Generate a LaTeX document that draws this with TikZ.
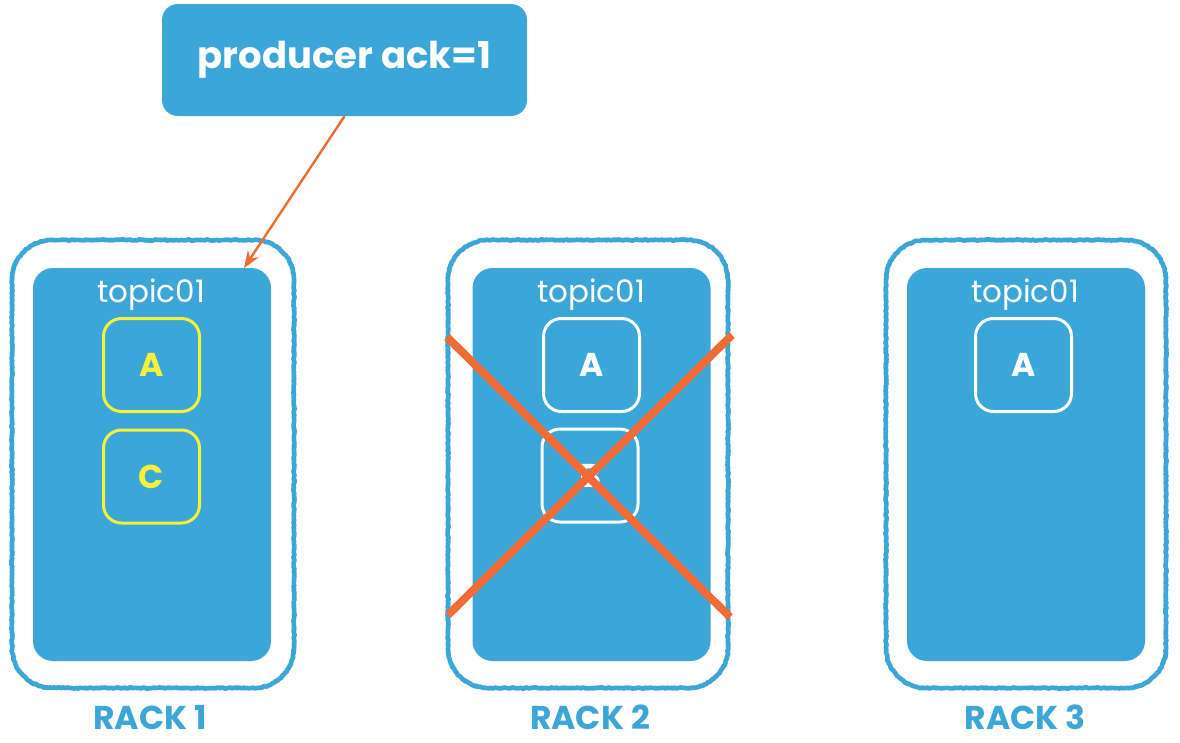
\documentclass[tikz,border=0pt]{standalone}
\usepackage{fontspec}
\setmainfont{Poppins}
\usetikzlibrary{decorations.pathmorphing,arrows.meta}
\definecolor{kblue}{HTML}{3CA6D8}
\definecolor{korange}{HTML}{F26B35}
\definecolor{kyellow}{HTML}{F5F03A}
% sketchy rounded frame: left, top, right, bottom (screen pixels), radius 40
\newcommand\sketchframe[4]{%
  \draw[framepen] (#1,#2+40) -- (#1,#4-40) arc[start angle=180,end angle=270,radius=40pt]
    -- (#3-40,#4) arc[start angle=270,end angle=360,radius=40pt]
    -- (#3,#2+40) arc[start angle=0,end angle=90,radius=40pt]
    -- (#1+40,#2) arc[start angle=90,end angle=180,radius=40pt] -- cycle;
  \draw[framepen2] (#1,#2+40) -- (#1,#4-40) arc[start angle=180,end angle=270,radius=40pt]
    -- (#3-40,#4) arc[start angle=270,end angle=360,radius=40pt]
    -- (#3,#2+40) arc[start angle=0,end angle=90,radius=40pt]
    -- (#1+40,#2) arc[start angle=90,end angle=180,radius=40pt] -- cycle;
}
\begin{document}
\begin{tikzpicture}[x=1pt,y=-1pt,
  framepen/.style={draw=kblue, line width=4.6pt, line join=round,
     decorate, decoration={random steps, segment length=1.5pt, amplitude=0.6pt}},
  framepen2/.style={draw=kblue, line width=1.8pt, line join=round,
     decorate, decoration={random steps, segment length=1pt, amplitude=1.5pt}},
  rackbg/.style={fill=kblue, rounded corners=20pt, minimum width=238pt, minimum height=393pt, inner sep=0pt, draw=none},
  part/.style={line width=3pt, rounded corners=18pt, minimum width=96pt, minimum height=93pt, inner sep=0pt,
     font=\fontsize{33}{36}\selectfont\bfseries},
  ypart/.style={part, draw=kyellow, text=kyellow},
  wpart/.style={part, draw=white, text=white},
  topic/.style={text=white, anchor=base, font=\fontsize{31}{36}\selectfont},
  racklabel/.style={text=kblue, anchor=base, inner sep=0pt, font=\fontsize{33}{38}\selectfont\bfseries},
  cross/.style={draw=korange, line width=8pt},
  arrow/.style={draw=korange, line width=2.4pt, -{Stealth[length=17pt,width=13pt]}}
]
\useasboundingbox (0,0) rectangle (1180,742);

% producer
\node[fill=kblue, rounded corners=16pt, minimum width=365pt, minimum height=112pt, inner sep=0pt,
  text=white, font=\fontsize{37}{42}\selectfont\bfseries] (prod) at (344.5,60) {producer ack=1};

% rack frames
\sketchframe{12}{240}{294}{688}
\sketchframe{448}{240}{728}{688}
\sketchframe{886}{240}{1166}{688}

% rack 1
\node[rackbg] (r1) at (152,464.5) {};
\node[topic] (t1) at (151,302) {topic01};
\node[ypart] (r1a) at (151.5,365) {A};
\node[ypart] (r1c) at (151.5,476.5) {C};
\node[racklabel] (l1) at (150,729) {RACK 1};

% rack 2
\node[rackbg] (r2) at (591.5,464.5) {};
\node[topic] (t2) at (591,302) {topic01};
\node[wpart] (r2a) at (591.5,365) {A};
\node[wpart] (r2b) at (590,475.5) {B};
\node[racklabel] (l2) at (590,729) {RACK 2};

% rack 3
\node[rackbg] (r3) at (1026,464.5) {};
\node[topic] (t3) at (1025,302) {topic01};
\node[wpart] (r3a) at (1023.5,365) {A};
\node[racklabel] (l3) at (1025,729) {RACK 3};

% cross over rack 2
\coordinate (x1) at (447,337);
\coordinate (x2) at (730,617);
\coordinate (x3) at (732,335);
\coordinate (x4) at (448,615);
\draw[cross] (x1) -- (x2);
\draw[cross] (x3) -- (x4);

% arrow
\coordinate (tip) at (244,268);
\draw[arrow] (prod.south) -- (tip);
\end{tikzpicture}
\end{document}
